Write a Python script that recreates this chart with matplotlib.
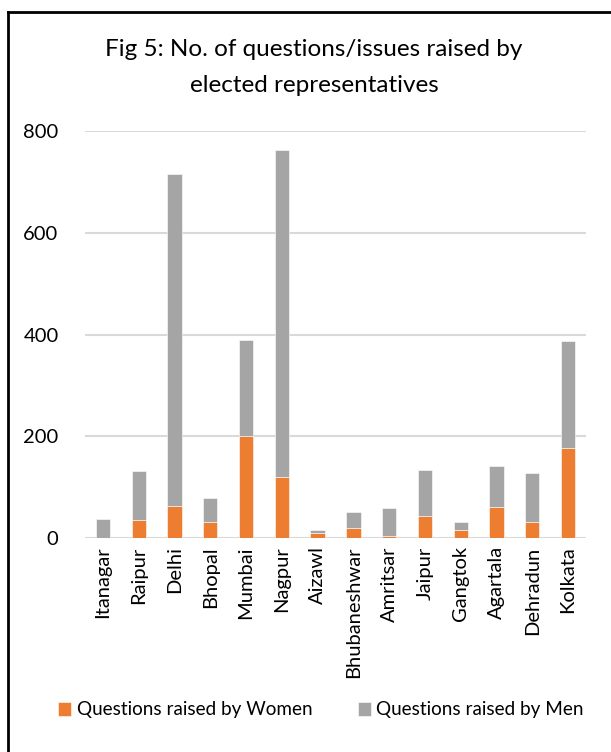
import matplotlib.pyplot as plt
from matplotlib.lines import Line2D
import numpy as np

plt.rcParams['font.family'] = ['Lato', 'DejaVu Sans']

# DATI
citta = ["Itanagar", "Raipur", "Delhi", "Bhopal", "Mumbai", "Nagpur", "Aizawl",
         "Bhubaneshwar", "Amritsar", "Jaipur", "Gangtok", "Agartala", "Dehradun", "Kolkata"]
donne = [0, 36, 63, 32, 200, 120, 10, 20, 4, 43, 16, 60, 32, 176]
uomini = [37, 95, 653, 47, 190, 643, 6, 32, 54, 91, 15, 82, 96, 211]

col_donne = '#ED7D31'
col_uomini = '#A5A5A5'

fig = plt.figure(figsize=(6.11, 7.52), dpi=100)
ax = fig.add_axes([85/611, 1 - 538/752, 501/611, 407/752])

x = np.arange(len(citta))
ax.bar(x, donne, width=0.4, color=col_donne, edgecolor='white', linewidth=0.4,
       label='Questions raised by Women', zorder=3)
ax.bar(x, uomini, width=0.4, bottom=donne, color=col_uomini, edgecolor='white',
       linewidth=0.4, label='Questions raised by Men', zorder=3)

ax.set_xlim(-0.5, len(citta) - 0.5)
ax.set_ylim(0, 800)
ax.set_yticks([0, 200, 400, 600, 800])
ax.set_xticks(x)
ax.set_xticklabels(citta, rotation=90)
ax.tick_params(axis='both', length=0, labelsize=14.5, colors='black')
ax.tick_params(axis='y', pad=19)
ax.tick_params(axis='x', pad=6)
ax.grid(axis='y', color='#D9D9D9', linewidth=1.5, zorder=0)
for s in ax.spines.values():
    s.set_visible(False)

fig.text(0.514, 1 - 50/752, "Fig 5: No. of questions/issues raised by", ha='center',
         va='center', fontsize=17.5)
fig.text(0.514, 1 - 85/752, "elected representatives", ha='center', va='center',
         fontsize=17.5)

fig.legend(loc='center', bbox_to_anchor=(0.525, 1 - 710/752), ncol=2, frameon=False,
           fontsize=13.6, handlelength=0.7, handleheight=0.7, handletextpad=0.3,
           columnspacing=2.4)

# cornice
fig.add_artist(Line2D([8/611, 8/611], [0, 1 - 12/752], color='black', linewidth=2,
                      transform=fig.transFigure))
fig.add_artist(Line2D([8/611, 1], [1 - 12/752, 1 - 12/752], color='black', linewidth=2,
                      transform=fig.transFigure))

fig.savefig('out.png', dpi=100)
